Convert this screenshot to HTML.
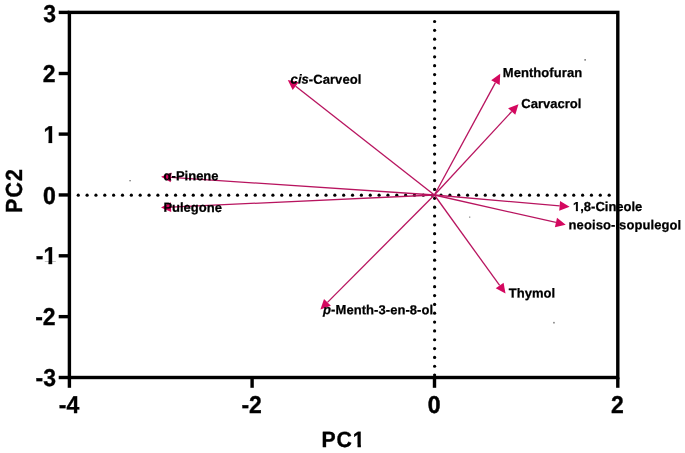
<!DOCTYPE html>
<html><head><meta charset="utf-8"><title>PCA loadings</title>
<style>
html,body{margin:0;padding:0;background:#fff;}
svg{display:block;}
text{font-family:"Liberation Sans",sans-serif;font-weight:bold;fill:#000;text-rendering:geometricPrecision;}
.lb{font-size:13px;stroke:#000;stroke-width:0.25px;}
.tk{font-size:23px;stroke:#000;stroke-width:0.3px;}
.ax{font-size:22px;text-rendering:geometricPrecision;}
</style></head><body>
<svg width="685" height="453" viewBox="0 0 685 453">
<defs>
<clipPath id="c1l"><rect x="7.28" y="-14" width="80" height="20"/><rect x="-1" y="-14" width="8.4" height="12.05"/><rect x="2.88" y="-2.0" width="2.09" height="2.4"/></clipPath>
<clipPath id="c1t"><rect x="-30" y="-22" width="31" height="19.3"/><rect x="-7.7" y="-2.8" width="3.7" height="3.4"/></clipPath>
<clipPath id="c1a"><rect x="-2" y="-22" width="34.56" height="30"/><rect x="32.46" y="-22" width="14" height="18.65"/><rect x="37.37" y="-3.4" width="3.47" height="4"/></clipPath>
</defs>
<rect width="685" height="453" fill="#fff"/>
<g fill="#000"><circle cx="78.25" cy="195.2" r="1.6"/><circle cx="87.10" cy="195.2" r="1.6"/><circle cx="95.95" cy="195.2" r="1.6"/><circle cx="104.80" cy="195.2" r="1.6"/><circle cx="113.64" cy="195.2" r="1.6"/><circle cx="122.49" cy="195.2" r="1.6"/><circle cx="131.34" cy="195.2" r="1.6"/><circle cx="140.19" cy="195.2" r="1.6"/><circle cx="149.04" cy="195.2" r="1.6"/><circle cx="157.88" cy="195.2" r="1.6"/><circle cx="166.73" cy="195.2" r="1.6"/><circle cx="175.58" cy="195.2" r="1.6"/><circle cx="184.43" cy="195.2" r="1.6"/><circle cx="193.28" cy="195.2" r="1.6"/><circle cx="202.13" cy="195.2" r="1.6"/><circle cx="210.97" cy="195.2" r="1.6"/><circle cx="219.82" cy="195.2" r="1.6"/><circle cx="228.67" cy="195.2" r="1.6"/><circle cx="237.52" cy="195.2" r="1.6"/><circle cx="246.37" cy="195.2" r="1.6"/><circle cx="255.22" cy="195.2" r="1.6"/><circle cx="264.06" cy="195.2" r="1.6"/><circle cx="272.91" cy="195.2" r="1.6"/><circle cx="281.76" cy="195.2" r="1.6"/><circle cx="290.61" cy="195.2" r="1.6"/><circle cx="299.46" cy="195.2" r="1.6"/><circle cx="308.31" cy="195.2" r="1.6"/><circle cx="317.15" cy="195.2" r="1.6"/><circle cx="326.00" cy="195.2" r="1.6"/><circle cx="334.85" cy="195.2" r="1.6"/><circle cx="343.70" cy="195.2" r="1.6"/><circle cx="352.55" cy="195.2" r="1.6"/><circle cx="361.40" cy="195.2" r="1.6"/><circle cx="370.25" cy="195.2" r="1.6"/><circle cx="379.09" cy="195.2" r="1.6"/><circle cx="387.94" cy="195.2" r="1.6"/><circle cx="396.79" cy="195.2" r="1.6"/><circle cx="405.64" cy="195.2" r="1.6"/><circle cx="414.49" cy="195.2" r="1.6"/><circle cx="423.33" cy="195.2" r="1.6"/><circle cx="432.18" cy="195.2" r="1.6"/><circle cx="441.03" cy="195.2" r="1.6"/><circle cx="449.88" cy="195.2" r="1.6"/><circle cx="458.73" cy="195.2" r="1.6"/><circle cx="467.58" cy="195.2" r="1.6"/><circle cx="476.43" cy="195.2" r="1.6"/><circle cx="485.27" cy="195.2" r="1.6"/><circle cx="494.12" cy="195.2" r="1.6"/><circle cx="502.97" cy="195.2" r="1.6"/><circle cx="511.82" cy="195.2" r="1.6"/><circle cx="520.67" cy="195.2" r="1.6"/><circle cx="529.51" cy="195.2" r="1.6"/><circle cx="538.36" cy="195.2" r="1.6"/><circle cx="547.21" cy="195.2" r="1.6"/><circle cx="556.06" cy="195.2" r="1.6"/><circle cx="564.91" cy="195.2" r="1.6"/><circle cx="573.76" cy="195.2" r="1.6"/><circle cx="582.61" cy="195.2" r="1.6"/><circle cx="591.45" cy="195.2" r="1.6"/><circle cx="600.30" cy="195.2" r="1.6"/><circle cx="609.15" cy="195.2" r="1.6"/><circle cx="434.6" cy="21.50" r="1.6"/><circle cx="434.6" cy="30.34" r="1.6"/><circle cx="434.6" cy="39.18" r="1.6"/><circle cx="434.6" cy="48.02" r="1.6"/><circle cx="434.6" cy="56.86" r="1.6"/><circle cx="434.6" cy="65.70" r="1.6"/><circle cx="434.6" cy="74.54" r="1.6"/><circle cx="434.6" cy="83.38" r="1.6"/><circle cx="434.6" cy="92.22" r="1.6"/><circle cx="434.6" cy="101.06" r="1.6"/><circle cx="434.6" cy="109.90" r="1.6"/><circle cx="434.6" cy="118.74" r="1.6"/><circle cx="434.6" cy="127.58" r="1.6"/><circle cx="434.6" cy="136.42" r="1.6"/><circle cx="434.6" cy="145.26" r="1.6"/><circle cx="434.6" cy="154.10" r="1.6"/><circle cx="434.6" cy="162.94" r="1.6"/><circle cx="434.6" cy="171.78" r="1.6"/><circle cx="434.6" cy="180.62" r="1.6"/><circle cx="434.6" cy="189.46" r="1.6"/><circle cx="434.6" cy="198.30" r="1.6"/><circle cx="434.6" cy="207.14" r="1.6"/><circle cx="434.6" cy="215.98" r="1.6"/><circle cx="434.6" cy="224.82" r="1.6"/><circle cx="434.6" cy="233.66" r="1.6"/><circle cx="434.6" cy="242.50" r="1.6"/><circle cx="434.6" cy="251.34" r="1.6"/><circle cx="434.6" cy="260.18" r="1.6"/><circle cx="434.6" cy="269.02" r="1.6"/><circle cx="434.6" cy="277.86" r="1.6"/><circle cx="434.6" cy="286.70" r="1.6"/><circle cx="434.6" cy="295.54" r="1.6"/><circle cx="434.6" cy="304.38" r="1.6"/><circle cx="434.6" cy="313.22" r="1.6"/><circle cx="434.6" cy="322.06" r="1.6"/><circle cx="434.6" cy="330.90" r="1.6"/><circle cx="434.6" cy="339.74" r="1.6"/><circle cx="434.6" cy="348.58" r="1.6"/><circle cx="434.6" cy="357.42" r="1.6"/><circle cx="434.6" cy="366.26" r="1.6"/><circle cx="434.6" cy="375.10" r="1.6"/></g>
<g fill="#8a8a8a"><rect x="129.2" y="180.1" width="1.8" height="1.2"/><rect x="584.3" y="59" width="1.7" height="1.7"/><rect x="553.1" y="321.9" width="1.7" height="1.6"/><rect x="469.1" y="216.5" width="1.2" height="1.3"/></g>
<line x1="434.4" y1="195.0" x2="495.43" y2="82.59" stroke="#b8145f" stroke-width="1.3"/>
<polygon points="500.20,73.80 499.69,84.90 491.17,80.27" fill="#d4085f"/>
<line x1="434.4" y1="195.0" x2="511.70" y2="111.54" stroke="#b8145f" stroke-width="1.3"/>
<polygon points="518.50,104.20 515.26,114.83 508.15,108.24" fill="#d4085f"/>
<line x1="434.4" y1="195.0" x2="295.67" y2="86.17" stroke="#b8145f" stroke-width="1.3"/>
<polygon points="287.80,80.00 298.66,82.36 292.67,89.99" fill="#d4085f"/>
<line x1="434.4" y1="195.0" x2="171.08" y2="177.37" stroke="#b8145f" stroke-width="1.3"/>
<polygon points="161.10,176.70 171.40,172.53 170.75,182.21" fill="#d4085f"/>
<line x1="434.4" y1="195.0" x2="170.99" y2="207.14" stroke="#b8145f" stroke-width="1.3"/>
<polygon points="161.00,207.60 170.77,202.29 171.21,211.98" fill="#d4085f"/>
<line x1="434.4" y1="195.0" x2="327.46" y2="302.41" stroke="#b8145f" stroke-width="1.3"/>
<polygon points="320.40,309.50 324.02,298.99 330.89,305.84" fill="#d4085f"/>
<line x1="434.4" y1="195.0" x2="499.65" y2="285.49" stroke="#b8145f" stroke-width="1.3"/>
<polygon points="505.50,293.60 495.72,288.33 503.59,282.65" fill="#d4085f"/>
<line x1="434.4" y1="195.0" x2="559.64" y2="205.93" stroke="#b8145f" stroke-width="1.3"/>
<polygon points="569.60,206.80 559.22,210.76 560.06,201.10" fill="#d4085f"/>
<line x1="434.4" y1="195.0" x2="555.95" y2="222.49" stroke="#b8145f" stroke-width="1.3"/>
<polygon points="565.70,224.70 554.88,227.22 557.02,217.76" fill="#d4085f"/>
<rect x="69.4" y="12.4" width="548.4" height="365.1" fill="none" stroke="#000" stroke-width="3.4" stroke-linejoin="miter"/>
<line x1="58.7" y1="12.40" x2="69.4" y2="12.40" stroke="#000" stroke-width="3.4"/>
<text transform="translate(56.00,22.10) scale(1,1.06)" class="tk" text-anchor="end">3</text>
<line x1="58.7" y1="73.50" x2="69.4" y2="73.50" stroke="#000" stroke-width="3.4"/>
<text transform="translate(55.60,81.95) scale(1,1.06)" class="tk" text-anchor="end">2</text>
<line x1="58.7" y1="134.10" x2="69.4" y2="134.10" stroke="#000" stroke-width="3.4"/>
<text transform="translate(56.20,142.80) scale(1,1.06)" class="tk" text-anchor="end" clip-path="url(#c1t)">1</text>
<line x1="58.7" y1="194.95" x2="69.4" y2="194.95" stroke="#000" stroke-width="3.4"/>
<text transform="translate(55.90,204.05) scale(1,1.06)" class="tk" text-anchor="end" style="stroke-width:0.5px">0</text>
<line x1="58.7" y1="255.80" x2="69.4" y2="255.80" stroke="#000" stroke-width="3.4"/>
<text transform="translate(56.20,264.10) scale(1,1.06)" class="tk" text-anchor="end" clip-path="url(#c1t)">-1</text>
<line x1="58.7" y1="316.65" x2="69.4" y2="316.65" stroke="#000" stroke-width="3.4"/>
<text transform="translate(55.60,324.80) scale(1,1.06)" class="tk" text-anchor="end">-2</text>
<line x1="58.7" y1="377.50" x2="69.4" y2="377.50" stroke="#000" stroke-width="3.4"/>
<text transform="translate(56.00,386.40) scale(1,1.06)" class="tk" text-anchor="end">-3</text>
<line x1="69.40" y1="377.5" x2="69.40" y2="387.8" stroke="#000" stroke-width="3.4"/>
<text transform="translate(68.95,413.3) scale(1,1.06)" class="tk" text-anchor="middle">-4</text>
<line x1="252.10" y1="377.5" x2="252.10" y2="387.8" stroke="#000" stroke-width="3.4"/>
<text transform="translate(251.65,413.3) scale(1,1.06)" class="tk" text-anchor="middle">-2</text>
<line x1="434.50" y1="377.5" x2="434.50" y2="387.8" stroke="#000" stroke-width="3.4"/>
<text transform="translate(434.05,413.3) scale(1,1.06)" class="tk" text-anchor="middle" style="stroke-width:0.5px">0</text>
<line x1="617.80" y1="377.5" x2="617.80" y2="387.8" stroke="#000" stroke-width="3.4"/>
<text transform="translate(617.35,413.3) scale(1,1.06)" class="tk" text-anchor="middle">2</text>
<text transform="translate(502.8,76.9) rotate(0.1)" class="lb" style="letter-spacing:0.06px">Menthofuran</text>
<text transform="translate(521.3,107.9) rotate(0.1)" class="lb">Carvacrol</text>
<text transform="translate(290.6,83.6) rotate(0.1)" class="lb" style="letter-spacing:0.06px"><tspan font-style="italic">cis</tspan>-Carveol</text>
<text transform="translate(163.6,180.2) rotate(0.1)" class="lb">α-Pinene</text>
<text transform="translate(163.4,211.8) rotate(0.1)" class="lb">Pulegone</text>
<text transform="translate(323.1,314.1) rotate(0.1)" class="lb" style="letter-spacing:0.06px"><tspan font-style="italic">p</tspan>-Menth-3-en-8-ol</text>
<text transform="translate(508.8,297.4) rotate(0.1)" class="lb">Thymol</text>
<text transform="translate(573.0,211.0) rotate(0.1)" class="lb" clip-path="url(#c1l)">1,8-Cineole</text>
<text transform="translate(568.6,229.2) rotate(0.1)" class="lb" style="letter-spacing:0.08px">neoiso-Isopulegol</text>
<text transform="translate(321.48,447.35) scale(0.965,1)" class="ax" text-anchor="start" clip-path="url(#c1a)" style="letter-spacing:0.95px;stroke:#000;stroke-width:0.35px">PC1</text>
<text transform="translate(21.8,212.9) rotate(-90) scale(0.97,1.06)" class="ax" text-anchor="start" style="letter-spacing:1.1px;stroke:#000;stroke-width:0.35px">PC2</text>
</svg>
</body></html>
